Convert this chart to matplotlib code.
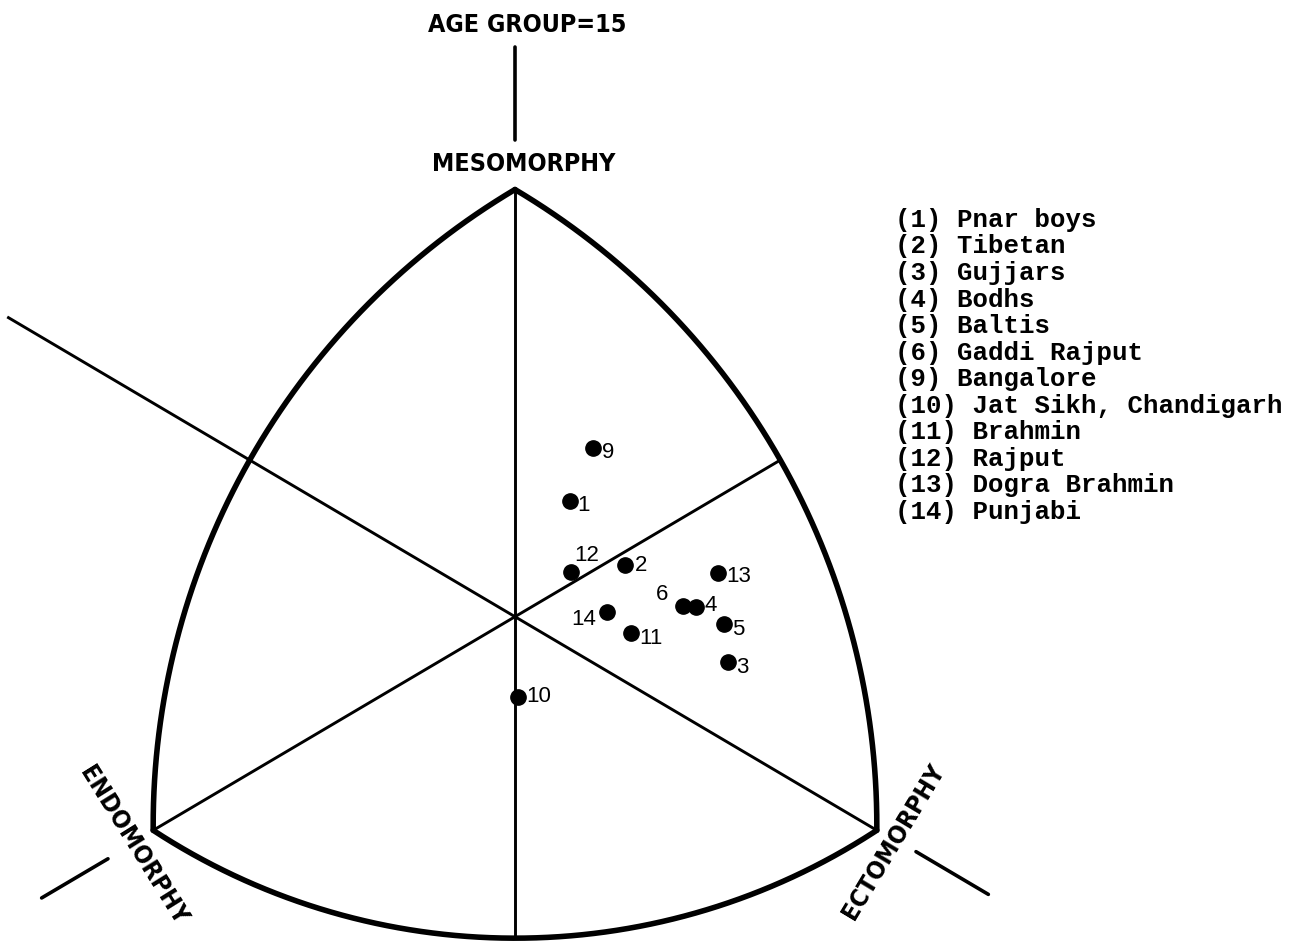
import numpy as np
import matplotlib
matplotlib.use('Agg')
import matplotlib.pyplot as plt
from matplotlib import font_manager

# somatochart coordinates: X = ecto - endo, Y = 2*meso - (endo + ecto)
group_ids = [1, 2, 3, 4, 5, 6, 9, 10, 11, 12, 13, 14]
group_names = ['Pnar boys', 'Tibetan', 'Gujjars', 'Bodhs', 'Baltis', 'Gaddi Rajput',
               'Bangalore', 'Jat Sikh, Chandigarh', 'Brahmin', 'Rajput',
               'Dogra Brahmin', 'Punjabi']
soma_x = [0.92, 1.82, 3.53, 3.00, 3.46, 2.79, 1.30, 0.05, 1.93, 0.93, 3.37, 1.53]
soma_y = [3.24, 1.45, -1.28, 0.28, -0.20, 0.31, 4.73, -2.25, -0.47, 1.26, 1.22, 0.12]

# label offsets (points) and alignment for each numbered dot
label_dx = [5, 7, 6, 6, 6, -11, 6, 6, 6, 2, 6, -8]
label_dy = [-3, 0, -4, 1, -4, 8, -3, 0, -4, 12, -2, -5]
label_ha = ['left', 'left', 'left', 'left', 'left', 'right', 'left', 'left', 'left',
            'left', 'left', 'right']

KX = 60.3 / 35.6  # display stretch of the X axis relative to Y

MESO = (0.0, 12.0)
ENDO = (-6.0, -6.0)
ECTO = (6.0, -6.0)


def arc(p0, pm, p1, n=200):
    # circular arc (in display-equal units) through three points
    a = np.array([p0[0] * KX, p0[1]])
    b = np.array([pm[0] * KX, pm[1]])
    c = np.array([p1[0] * KX, p1[1]])
    d = 2 * (a[0] * (b[1] - c[1]) + b[0] * (c[1] - a[1]) + c[0] * (a[1] - b[1]))
    ux = ((a @ a) * (b[1] - c[1]) + (b @ b) * (c[1] - a[1]) + (c @ c) * (a[1] - b[1])) / d
    uy = ((a @ a) * (c[0] - b[0]) + (b @ b) * (a[0] - c[0]) + (c @ c) * (b[0] - a[0])) / d
    r = np.hypot(a[0] - ux, a[1] - uy)
    t0 = np.arctan2(a[1] - uy, a[0] - ux)
    tm = np.arctan2(b[1] - uy, b[0] - ux)
    t1 = np.arctan2(c[1] - uy, c[0] - ux)
    t1 = t0 + (t1 - t0) % (2 * np.pi)
    tm = t0 + (tm - t0) % (2 * np.pi)
    if tm > t1:
        t1 -= 2 * np.pi
    t = np.linspace(t0, t1, n)
    return (ux + r * np.cos(t)) / KX, uy + r * np.sin(t)


# narrow bold lettering for the axis names; fall back to Roboto
narrow = [f for f in font_manager.fontManager.ttflist
          if f.stretch in ('condensed', 'semi-condensed') and f.weight in (600, 700, 'bold')
          and f.style == 'normal' and 'Mono' not in f.name and 'Serif' not in f.name]
if narrow:
    head_prop = font_manager.FontProperties(fname=narrow[0].fname, size=18)
else:
    head_prop = font_manager.FontProperties(family=['Roboto', 'DejaVu Sans'],
                                            weight='bold', size=17)

fig = plt.figure(figsize=(13.01, 9.46), dpi=100)
ax = fig.add_axes([0, 0, 1, 1])
ax.set_xlim(-515 / 60.3, (1301 - 515) / 60.3)
ax.set_ylim(-(946 - 616.7) / 35.6, 616.7 / 35.6)
ax.axis('off')

lw_frame = 4.0
lw_line = 2.1

# outline
for p0, pm, p1 in [(MESO, (-4.4, 4.4), ENDO), (MESO, (4.4, 4.4), ECTO), (ENDO, (0.0, -9.03), ECTO)]:
    xs, ys = arc(p0, pm, p1)
    ax.plot(xs, ys, color='black', lw=lw_frame, solid_capstyle='round', solid_joinstyle='round')

# axes through the centre
ax.plot([0, 0], [12, -9.03], color='black', lw=lw_line)
ax.plot([-8.4, 6.0], [8.4, -6.0], color='black', lw=lw_line)
ax.plot([-6.0, 4.4], [-6.0, 4.4], color='black', lw=lw_line)

# outer axis stubs
ax.plot([0, 0], [16.0, 13.4], color='black', lw=2.6, solid_capstyle='round')
ax.plot([-7.85, -6.75], [-7.9, -6.8], color='black', lw=2.6, solid_capstyle='round')
ax.plot([6.65, 7.85], [-6.6, -7.8], color='black', lw=2.6, solid_capstyle='round')

ax.text(0.2, 16.62, 'AGE GROUP=15', ha='center', va='center', fontproperties=head_prop)
ax.text(0.15, 12.72, 'MESOMORPHY', ha='center', va='center', fontproperties=head_prop)
ax.text(-6.33, -6.42, 'ENDOMORPHY', ha='center', va='center', rotation=-58,
        rotation_mode='anchor', fontproperties=head_prop)
ax.text(6.27, -6.32, 'ECTOMORPHY', ha='center', va='center', rotation=59,
        rotation_mode='anchor', fontproperties=head_prop)

# group means
ax.plot(soma_x, soma_y, 'o', color='black', markersize=11, linestyle='none')
for gid, x, y, dx, dy, ha in zip(group_ids, soma_x, soma_y, label_dx, label_dy, label_ha):
    ax.annotate(str(gid), (x, y), xytext=(dx, dy), textcoords='offset points',
                ha=ha, va='center', fontsize=16, color='black',
                family=['Liberation Sans', 'DejaVu Sans'])

# key
for i, (gid, name) in enumerate(zip(group_ids, group_names)):
    fig.text(895 / 1301, 1 - (220 + i * 26.5) / 946, f'({gid}) {name}',
             ha='left', va='center', fontsize=18.5, fontweight='bold',
             family=['Liberation Mono', 'DejaVu Sans Mono'], color='black')

fig.savefig('out.png', dpi=100, facecolor='white')
